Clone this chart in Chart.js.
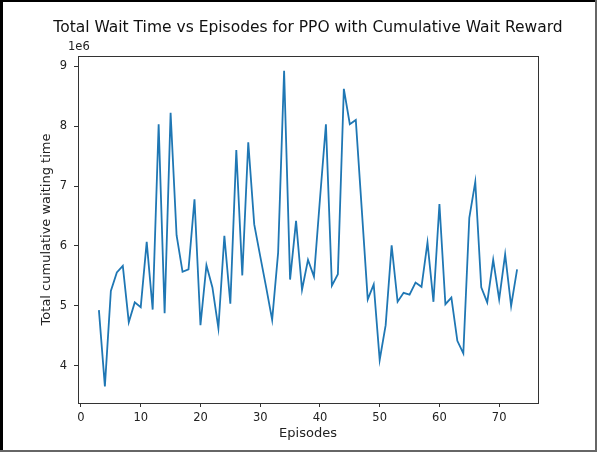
<!DOCTYPE html>
<html>
<head>
<meta charset="utf-8">
<script src="https://cdn.jsdelivr.net/npm/chart.js@4/dist/chart.umd.min.js"></script>
<style>
  html, body { margin: 0; padding: 0; background: #fff; }
  #wrap { width: 597px; height: 452px; position: relative; }
</style>
</head>
<body>
<div id="wrap"><canvas id="grafico"></canvas></div>
<script>
// episodios y tiempo de espera total (en unidades de 1e6)
const episodios = [];
for (let e = 3; e <= 73; e++) episodios.push(e);

const espera = [
    4.93, 3.66, 5.25, 5.56, 5.67, 4.73, 5.06, 4.98, 6.07, 4.94,
    8.03, 4.88, 8.22, 6.18, 5.57, 5.61, 6.78, 4.68, 5.68, 5.31,
    4.63, 6.17, 5.04, 7.60, 5.51, 7.73, 6.36, 5.83, 5.31, 4.77,
    5.89, 8.92, 5.44, 6.42, 5.27, 5.77, 5.49, 6.78, 8.03, 5.34,
    5.53, 8.62, 8.03, 8.10, 6.61, 5.11, 5.36, 4.10, 4.68, 6.01,
    5.07, 5.22, 5.19, 5.39, 5.32, 6.06, 5.07, 6.70, 5.03, 5.14,
    4.42, 4.21, 6.47, 7.07, 5.31, 5.06, 5.77, 5.11, 5.86, 5.00,
    5.61
];

const ticksX = [0, 10, 20, 30, 40, 50, 60, 70];
const ticksY = [4, 5, 6, 7, 8, 9];

const titulo = "Total Wait Time vs Episodes for PPO with Cumulative Wait Reward";
const fuente = "'DejaVu Sans', sans-serif";
const gris = "#333";

// titulo centrado sobre los ejes, marco, etiqueta 1e6 y borde de la captura
const extras = {
    id: "extras",
    afterDraw(chart) {
        const ctx = chart.ctx;
        const a = chart.chartArea;
        ctx.save();
        ctx.strokeStyle = gris;
        ctx.lineWidth = 1;
        ctx.strokeRect(Math.round(a.left) + 0.5, Math.round(a.top) + 0.5,
            Math.round(a.right - a.left), Math.round(a.bottom - a.top));

        ctx.fillStyle = "#111";
        ctx.font = "15.5px " + fuente;
        ctx.textAlign = "center";
        ctx.textBaseline = "middle";
        ctx.fillText(titulo, (a.left + a.right) / 2, 28);

        ctx.fillStyle = "#222";
        ctx.font = "11.5px " + fuente;
        ctx.textAlign = "left";
        ctx.textBaseline = "alphabetic";
        ctx.fillText("1e6", a.left - 10, a.top - 6);

        // borde de la imagen
        ctx.fillStyle = "#000";
        ctx.fillRect(0, 0, 3, 452);
        ctx.fillRect(0, 0, 597, 2);
        ctx.fillStyle = "#666";
        ctx.fillRect(595, 0, 2, 452);
        ctx.fillRect(0, 450, 597, 2);
        ctx.restore();
    }
};

const ctx = document.getElementById("grafico").getContext("2d");
new Chart(ctx, {
    type: "line",
    data: {
        labels: episodios,
        datasets: [{
            data: episodios.map((e, i) => ({ x: e, y: espera[i] })),
            borderColor: "#1f77b4",
            borderWidth: 1.8,
            pointRadius: 0,
            tension: 0,
            fill: false
        }]
    },
    options: {
        responsive: true,
        maintainAspectRatio: false,
        animation: false,
        layout: { padding: { left: 0, right: 59, top: 56, bottom: 0 } },
        plugins: {
            legend: { display: false },
            tooltip: { enabled: false },
            title: { display: false }
        },
        scales: {
            x: {
                type: "linear",
                min: -0.5,
                max: 76.5,
                afterBuildTicks: s => { s.ticks = ticksX.map(v => ({ value: v })); },
                afterFit: s => { s.height = 49; },
                grid: { drawOnChartArea: false, tickLength: 4, color: gris },
                border: { color: gris },
                ticks: { color: "#222", padding: 4, maxRotation: 0, font: { family: fuente, size: 11.5 } },
                title: {
                    display: true,
                    text: "Episodes",
                    color: "#222",
                    font: { family: fuente, size: 13 },
                    padding: { top: 0, bottom: 11 }
                }
            },
            y: {
                min: 3.383,
                max: 9.167,
                afterBuildTicks: s => { s.ticks = ticksY.map(v => ({ value: v })); },
                afterFit: s => { s.width = 78; },
                grid: { drawOnChartArea: false, tickLength: 4, color: gris },
                border: { color: gris },
                ticks: { color: "#222", padding: 7, font: { family: fuente, size: 11.5 } },
                title: {
                    display: true,
                    text: "Total cumulative waiting time",
                    color: "#222",
                    font: { family: fuente, size: 13 },
                    padding: { top: 39, bottom: 0 }
                }
            }
        }
    },
    plugins: [extras]
});
</script>
</body>
</html>
